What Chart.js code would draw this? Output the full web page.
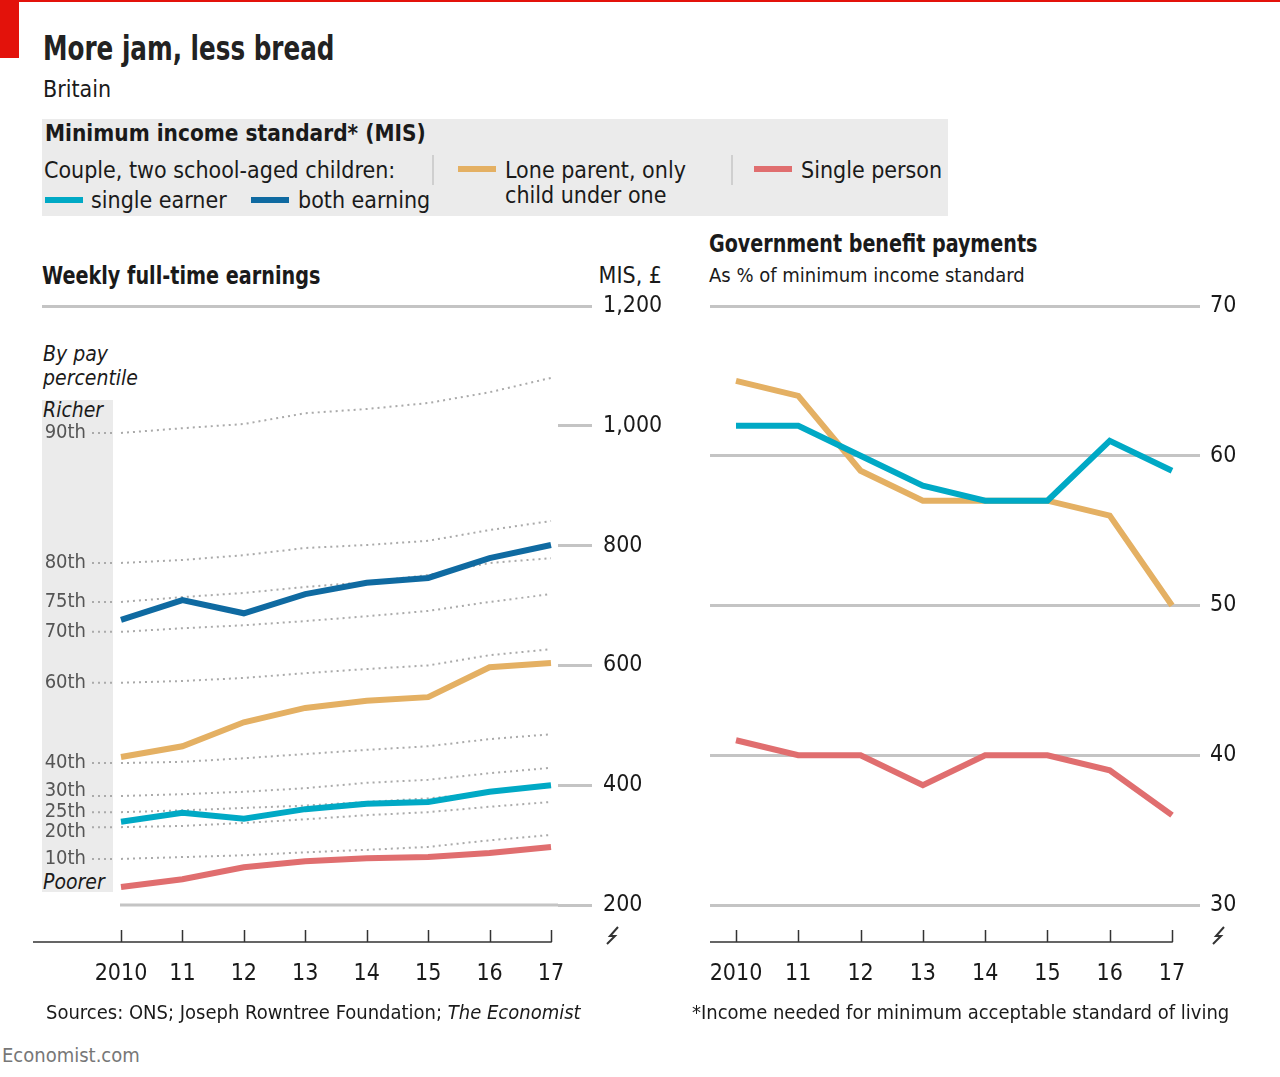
<!DOCTYPE html>
<html>
<head>
<meta charset="utf-8">
<script src="https://cdn.jsdelivr.net/npm/chart.js@4.4.1/dist/chart.umd.min.js"></script>
<style>
body{margin:0;background:#fff;width:1280px;height:1077px;position:relative;overflow:hidden;
  font-family:"Liberation Sans Narrow","DejaVu Sans Condensed",Roboto,sans-serif;color:#1a1a1a}
.t{position:absolute;white-space:nowrap;line-height:1;transform-origin:0 0}
.sw{position:absolute;height:6px;width:38px}
.sep{position:absolute;width:2px;height:30px;background:#cfcfcf}
canvas{position:absolute}
</style>
</head>
<body>
<div style="position:absolute;left:0;top:0;width:1280px;height:2px;background:#e3120b"></div>
<div style="position:absolute;left:0;top:0;width:19px;height:58px;background:#e3120b"></div>
<div class="t" style="left:43px;top:32px;font-size:33px;font-weight:bold;color:#222;transform:scaleX(0.83)">More jam, less bread</div>
<div class="t" style="left:43px;top:78px;font-size:23px">Britain</div>

<div style="position:absolute;left:42px;top:119px;width:906px;height:97px;background:#ebebeb"></div>
<div class="t" style="left:45px;top:122px;font-size:23px;font-weight:bold;transform:scaleX(0.975)">Minimum income standard* (MIS)</div>
<div class="t" style="left:44px;top:159px;font-size:23px">Couple, two school-aged children:</div>
<div class="sep" style="left:432px;top:155px"></div>
<div class="sw" style="left:45px;top:197px;background:#00a9c5"></div>
<div class="t" style="left:91px;top:189px;font-size:23px">single earner</div>
<div class="sw" style="left:251px;top:197px;background:#0f6aa1"></div>
<div class="t" style="left:298px;top:189px;font-size:23px">both earning</div>
<div class="sw" style="left:458px;top:166px;background:#e4b063"></div>
<div class="t" style="left:505px;top:159px;font-size:23px">Lone parent, only</div>
<div class="t" style="left:505px;top:184px;font-size:23px">child under one</div>
<div class="sep" style="left:731px;top:155px"></div>
<div class="sw" style="left:754px;top:166px;background:#e06e6f"></div>
<div class="t" style="left:801px;top:159px;font-size:23px">Single person</div>

<div class="t" style="left:42px;top:264px;font-size:24px;font-weight:bold;transform:scaleX(0.89)">Weekly full-time earnings</div>
<div class="t" style="right:618px;top:264px;font-size:23px">MIS, £</div>
<div class="t" style="left:709px;top:232px;font-size:24px;font-weight:bold;transform:scaleX(0.886)">Government benefit payments</div>
<div class="t" style="left:709px;top:265px;font-size:20px">As % of minimum income standard</div>

<div style="position:absolute;left:42px;top:400px;width:71px;height:492px;background:#ebebeb"></div>
<div class="t" style="left:43px;top:344px;font-size:21px;font-style:italic">By pay</div>
<div class="t" style="left:43px;top:368px;font-size:21px;font-style:italic">percentile</div>
<div class="t" style="left:43px;top:400px;font-size:21px;font-style:italic">Richer</div>
<div class="t" style="left:43px;top:872px;font-size:21px;font-style:italic">Poorer</div>

<canvas id="earnings" width="680" height="720" style="left:0;top:290px"></canvas>
<canvas id="benefits" width="600" height="720" style="left:680px;top:290px"></canvas>

<div class="t" style="left:46px;top:1002px;font-size:20px">Sources: ONS; Joseph Rowntree Foundation; <i>The Economist</i></div>
<div class="t" style="left:692px;top:1002px;font-size:20px">*Income needed for minimum acceptable standard of living</div>
<div class="t" style="left:2px;top:1045px;font-size:20px;color:#777">Economist.com</div>

<script>
const years = [2010, 2011, 2012, 2013, 2014, 2015, 2016, 2017];
const yearLabels = ['2010', '11', '12', '13', '14', '15', '16', '17'];

// MIS, £ a week
const misBothEarning = [676, 709, 687, 719, 738, 746, 779, 801];
const misLoneParent = [447, 465, 505, 529, 541, 547, 597, 604];
const misSingleEarner = [339, 354, 344, 360, 369, 372, 389, 400];
const misSinglePerson = [230, 243, 263, 273, 278, 280, 287, 297];

// weekly full-time earnings by pay percentile, £
const pctLabels = ['90th', '80th', '75th', '70th', '60th', '40th', '30th', '25th', '20th', '10th'];
const p90 = [988, 996, 1003, 1021, 1028, 1038, 1056, 1080];
const p80 = [771, 776, 784, 796, 801, 808, 826, 841];
const p75 = [706, 714, 721, 731, 739, 751, 771, 779];
const p70 = [656, 662, 667, 674, 682, 691, 706, 719];
const p60 = [571, 574, 579, 587, 594, 600, 617, 627];
const p40 = [437, 439, 445, 452, 459, 465, 477, 485];
const p30 = [382, 385, 389, 395, 404, 409, 420, 429];
const p25 = [355, 358, 362, 366, 372, 378, 388, 398];
const p20 = [330, 332, 337, 343, 350, 355, 364, 372];
const p10 = [277, 280, 283, 288, 292, 297, 308, 317];
const pctSeries = [p90, p80, p75, p70, p60, p40, p30, p25, p20, p10];

// benefits as % of MIS
const benSingleEarner = [62, 62, 60, 58, 57, 57, 61, 59];
const benLoneParent = [65, 64, 59, 57, 57, 57, 56, 50];
const benSinglePerson = [41, 40, 40, 38, 40, 40, 39, 36];

const earnTicks = [200, 400, 600, 800, 1000, 1200];
const benTicks = [30, 40, 50, 60, 70];

const TEAL = '#00a9c5', BLUE = '#0f6aa1', GOLD = '#e4b063', RED = '#e06e6f';
const RULE = '#c4c4c4';
const FONT = '"Liberation Sans Narrow","DejaVu Sans Condensed",Roboto,sans-serif';

const pts = arr => arr.map((v, i) => ({x: years[i], y: v}));

function solid(data, color) {
  return {data: pts(data), borderColor: color, borderWidth: 6, pointRadius: 0,
    tension: 0, borderCapStyle: 'butt', borderJoinStyle: 'miter'};
}

// no extra room for labels hanging over the plot edges
function noPad(s) {
  s.paddingLeft = 0; s.paddingRight = 0; s.paddingTop = 0; s.paddingBottom = 0;
}

const nudge = {'30th': -5, '20th': 5};

const econFrame = {
  id: 'econFrame',
  beforeDatasetsDraw(chart, args, opts) {
    const {ctx, chartArea, scales: {x, y}} = chart;
    ctx.save();
    if (opts.baseRule) {
      const yy = y.getPixelForValue(y.min);
      ctx.strokeStyle = RULE;
      ctx.lineWidth = 3;
      ctx.beginPath();
      ctx.moveTo(x.getPixelForValue(years[0]) - 1, yy);
      ctx.lineTo(chartArea.right, yy);
      ctx.stroke();
    }
    chart.data.datasets.forEach(ds => {
      if (!ds.pctLabel) return;
      const yy = y.getPixelForValue(ds.data[0].y);
      ctx.strokeStyle = '#aaa';
      ctx.lineWidth = 2;
      ctx.setLineDash([2, 4]);
      ctx.beginPath();
      ctx.moveTo(92, yy);
      ctx.lineTo(114, yy);
      ctx.stroke();
      ctx.setLineDash([]);
      ctx.fillStyle = '#555';
      ctx.font = '20px ' + FONT;
      ctx.textAlign = 'right';
      ctx.textBaseline = 'middle';
      ctx.fillText(ds.pctLabel, 86, yy + (nudge[ds.pctLabel] || 0));
    });
    ctx.restore();
  },
  afterDraw(chart, args, opts) {
    const {ctx, chartArea, scales: {x}} = chart;
    const ay = chartArea.bottom + 37;
    const xEnd = x.getPixelForValue(years[years.length - 1]);
    ctx.save();
    ctx.strokeStyle = '#333';
    ctx.lineWidth = 1.5;
    ctx.beginPath();
    ctx.moveTo(opts.axisStart, ay);
    ctx.lineTo(xEnd + 0.75, ay);
    years.forEach(yr => {
      const px = Math.round(x.getPixelForValue(yr)) + 0.5;
      ctx.moveTo(px, ay);
      ctx.lineTo(px, ay - 12);
    });
    ctx.stroke();
    // axis break mark
    const bx = opts.breakX, by = ay - 7;
    ctx.lineWidth = 2;
    ctx.beginPath();
    ctx.moveTo(bx + 6, by - 8);
    ctx.lineTo(bx - 2, by + 1);
    ctx.lineTo(bx + 3, by + 1);
    ctx.lineTo(bx - 5, by + 9);
    ctx.stroke();
    ctx.restore();
  }
};

function xAxis(min, max) {
  return {
    type: 'linear', min: min, max: max,
    grid: {display: false, drawTicks: false}, border: {display: false},
    afterBuildTicks: s => { s.ticks = years.map(v => ({value: v})); },
    afterFit: s => { s.height = 105; noPad(s); },
    ticks: {autoSkip: false, maxRotation: 0, padding: 55, color: '#1a1a1a',
      font: {family: FONT, size: 23},
      callback: v => yearLabels[years.indexOf(v)]}
  };
}

new Chart(document.getElementById('earnings'), {
  type: 'line',
  data: {
    datasets: [
      solid(misBothEarning, BLUE),
      solid(misSingleEarner, TEAL),
      solid(misLoneParent, GOLD),
      solid(misSinglePerson, RED)
    ].concat(pctSeries.map((s, i) => ({
      data: pts(s), pctLabel: pctLabels[i], borderColor: '#aaa', borderWidth: 2,
      borderDash: [2, 4], pointRadius: 0, tension: 0
    })))
  },
  options: {
    responsive: false, animation: false,
    layout: {padding: {left: 42, top: 16, right: 0, bottom: 0}},
    scales: {
      x: xAxis(2010 - 79 / 61.43, 2017 + 7 / 61.43),
      y: {
        position: 'right', min: 200, max: 1200,
        afterBuildTicks: s => { s.ticks = earnTicks.map(v => ({value: v})); },
        afterFit: s => { s.width = 122; noPad(s); },
        border: {display: false},
        grid: {
          color: c => c.tick && c.tick.value === 1200 ? RULE : 'rgba(0,0,0,0)',
          tickColor: RULE, lineWidth: 3, drawTicks: true, tickLength: 34
        },
        ticks: {padding: 11, color: '#1a1a1a', font: {family: FONT, size: 23},
          callback: v => v.toLocaleString('en-GB')}
      }
    },
    plugins: {
      legend: {display: false}, tooltip: {enabled: false},
      econFrame: {baseRule: true, axisStart: 33, breakX: 612}
    }
  },
  plugins: [econFrame]
});

new Chart(document.getElementById('benefits'), {
  type: 'line',
  data: {
    datasets: [
      solid(benSingleEarner, TEAL),
      solid(benLoneParent, GOLD),
      solid(benSinglePerson, RED)
    ]
  },
  options: {
    responsive: false, animation: false,
    layout: {padding: {left: 30, top: 16, right: 0, bottom: 0}},
    scales: {
      x: xAxis(2010 - 26 / 62.29, 2017 + 28 / 62.29),
      y: {
        position: 'right', min: 30, max: 70,
        afterBuildTicks: s => { s.ticks = benTicks.map(v => ({value: v})); },
        afterFit: s => { s.width = 80; noPad(s); },
        border: {display: false},
        grid: {color: RULE, lineWidth: 3, drawTicks: false},
        ticks: {padding: 10, color: '#1a1a1a', font: {family: FONT, size: 23}}
      }
    },
    plugins: {
      legend: {display: false}, tooltip: {enabled: false},
      econFrame: {baseRule: false, axisStart: 30, breakX: 538}
    }
  },
  plugins: [econFrame]
});
</script>
</body>
</html>
